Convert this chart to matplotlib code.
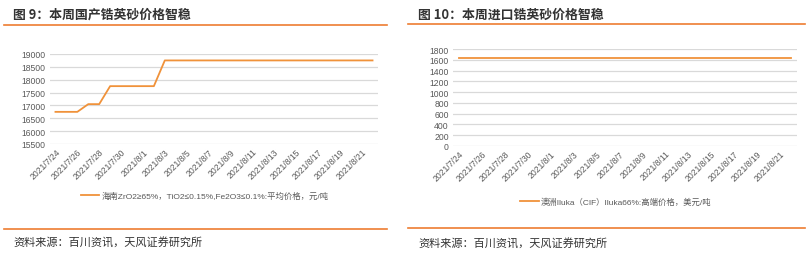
import matplotlib
matplotlib.use("Agg")
import matplotlib.pyplot as plt
from matplotlib.lines import Line2D
import numpy as np
import pandas as pd

plt.rcParams['font.family'] = ['Liberation Sans', 'Noto Sans CJK SC', 'DejaVu Sans']
CJK = ['Noto Sans CJK SC', 'DejaVu Sans']

# ---- data ----
dates = pd.date_range("2021-07-24", "2021-08-22", freq="D")
domestic_price = [16750, 16750, 16750, 17050, 17050, 17750, 17750, 17750, 17750, 17750,
                  18750, 18750, 18750, 18750, 18750, 18750, 18750, 18750, 18750, 18750,
                  18750, 18750, 18750, 18750, 18750, 18750, 18750, 18750, 18750, 18750]
import_price = [1630] * 30
tick_labels = [f"{d.year}/{d.month}/{d.day}" for d in dates[::2]]

title_left = "图 9：本周国产锆英砂价格智稳"
title_right = "图 10：本周进口锆英砂价格智稳"
legend_left = "海南ZrO2≥65%，TiO2≤0.15%,Fe2O3≤0.1%:平均价格，元/吨"
legend_right = "澳洲Iluka（CIF）Iluka66%:高端价格，美元/吨"
source = "资料来源：百川资讯，天风证券研究所"

W, H = 809, 255
fig = plt.figure(figsize=(W / 100, H / 100), dpi=100)

LINE_C = "#F0923A"
RULE_C = "#ED7D31"
GRID_C = "#D9D9D9"
TXT_C = "#595959"


def px_axes(x0, y_top, x1, y_bot):
    return fig.add_axes([x0 / W, 1 - y_bot / H, (x1 - x0) / W, (y_bot - y_top) / H])


def hline(x0, x1, y, color=RULE_C, lw=1.2):
    fig.add_artist(Line2D([x0 / W, x1 / W], [1 - y / H, 1 - y / H], color=color, lw=lw,
                          transform=fig.transFigure))


def style(ax, ylim, yticks, legend_xy):
    x = np.arange(len(dates))
    ax.set_xlim(-0.5, len(dates) - 0.5)
    ax.set_ylim(*ylim)
    ax.set_yticks(yticks)
    ax.set_yticklabels([str(v) for v in yticks], fontsize=6.2, color=TXT_C)
    ax.set_xticks(x[::2])
    ax.set_xticklabels(tick_labels, rotation=45, ha="right", va="top",
                       rotation_mode="anchor", fontsize=6.2, color=TXT_C)
    ax.tick_params(axis="both", length=0, pad=3)
    ax.tick_params(axis="x", pad=2)
    for s in ax.spines.values():
        s.set_visible(False)
    ax.grid(axis="y", color=GRID_C, lw=0.9)
    ax.set_axisbelow(True)
    ax.set_facecolor("none")
    leg = ax.legend(loc="center", bbox_to_anchor=(legend_xy[0] / W, 1 - legend_xy[1] / H),
                    bbox_transform=fig.transFigure, frameon=False, fontsize=6,
                    handlelength=2.2, handletextpad=0.3)
    for t in leg.get_texts():
        t.set_color(TXT_C)


# ---- left panel ----
axL = px_axes(50, 55, 378, 145)
axL.plot(np.arange(len(dates)), domestic_price, color=LINE_C, lw=1.3, label=legend_left)
style(axL, (15500, 19000), list(range(15500, 19001, 500)), (205, 197))

# ---- right panel ----
axR = px_axes(453, 50, 797, 147)
axR.plot(np.arange(len(dates)), import_price, color=LINE_C, lw=1.3, label=legend_right)
style(axR, (0, 1800), list(range(0, 1801, 200)), (616, 203))

# ---- titles, rules, sources ----
fig.text(13 / W, 1 - 15 / H, title_left, fontsize=9.3, fontweight="bold", color="#333333",
         ha="left", va="center", family=CJK)
fig.text(418 / W, 1 - 15 / H, title_right, fontsize=9.3, fontweight="bold", color="#333333",
         ha="left", va="center", family=CJK)
hline(4, 387, 26)
hline(408, 805, 25)
hline(4, 387, 230)
hline(408, 805, 229)
fig.text(13 / W, 1 - 243 / H, source, fontsize=8, color="#333333", ha="left", va="center",
         family=CJK)
fig.text(418 / W, 1 - 244 / H, source, fontsize=8, color="#333333", ha="left", va="center",
         family=CJK)

fig.savefig("out.png", dpi=100)
